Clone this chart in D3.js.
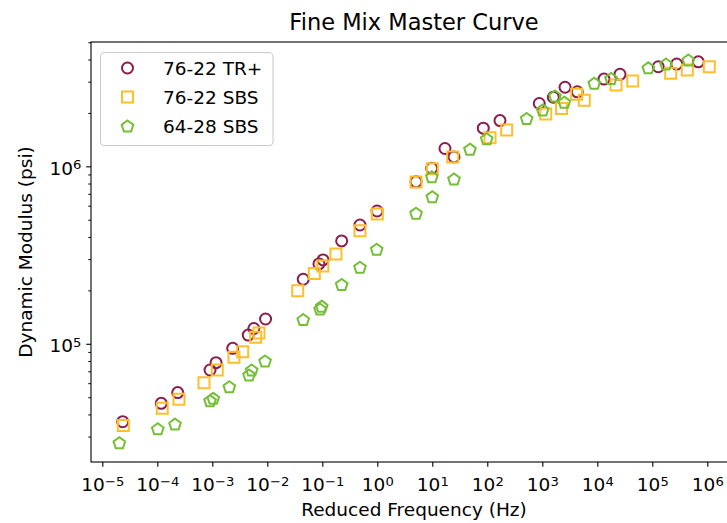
<!DOCTYPE html>
<html>
<head>
<meta charset="utf-8">
<script src="https://cdn.jsdelivr.net/npm/d3@7"></script>
<style>
  html, body { margin: 0; padding: 0; background: #fff; }
  svg { display: block; font-family: "DejaVu Sans", sans-serif; }
</style>
</head>
<body>
<svg id="chart" width="727" height="523"></svg>
<script>
// Reduced frequency (Hz) and dynamic modulus (psi) per mix
const freqTR   = [2.35e-5, 1.18e-4, 2.35e-4, 9.1e-4, 1.17e-3, 2.35e-3, 4.5e-3, 5.7e-3, 9.3e-3,
                  4.5e-2, 8.7e-2, 0.103, 0.225, 0.484, 0.99, 5.06, 9.75, 17.0, 24.8, 84.5, 170,
                  881, 1585, 2590, 4330, 13240, 25880, 1.285e5, 2.78e5, 6.86e5];
const modTR    = [3.64e4, 4.62e4, 5.31e4, 7.12e4, 7.83e4, 9.43e4, 1.12e5, 1.22e5, 1.38e5,
                  2.31e5, 2.82e5, 2.97e5, 3.80e5, 4.67e5, 5.60e5, 8.19e5, 9.75e5, 1.26e6, 1.13e6, 1.64e6, 1.81e6,
                  2.26e6, 2.45e6, 2.79e6, 2.63e6, 3.10e6, 3.30e6, 3.64e6, 3.77e6, 3.88e6];

const freqSBS  = [2.41e-5, 1.23e-4, 2.48e-4, 7.06e-4, 1.23e-3, 2.48e-3, 3.57e-3, 6.15e-3, 7.06e-3,
                  3.57e-2, 7.16e-2, 0.102, 0.177, 0.484, 1.0, 5.06, 10.0, 23.5, 112, 225,
                  1153, 2234, 4220, 5800, 21880, 44060, 2.16e5, 4.33e5, 1.087e6];
const modSBS   = [3.46e4, 4.33e4, 4.87e4, 6.04e4, 7.12e4, 8.39e4, 9.02e4, 1.09e5, 1.15e5,
                  1.99e5, 2.49e5, 2.74e5, 3.21e5, 4.34e5, 5.39e5, 8.16e5, 9.69e5, 1.13e6, 1.45e6, 1.60e6,
                  1.97e6, 2.12e6, 2.55e6, 2.36e6, 2.87e6, 3.03e6, 3.34e6, 3.49e6, 3.64e6];

const freq6428 = [2.04e-5, 1.02e-4, 2.10e-4, 9.1e-4, 1.04e-3, 2.04e-3, 4.65e-3, 5.2e-3, 9.1e-3,
                  4.5e-2, 9.1e-2, 9.75e-2, 0.225, 0.484, 0.975, 5.06, 10.0, 9.8, 24.8, 48.4, 97.5,
                  520, 1016, 1702, 2512, 8810, 17740, 84530, 1.77e5, 4.52e5];
const mod6428  = [2.77e4, 3.32e4, 3.53e4, 4.78e4, 4.93e4, 5.73e4, 6.67e4, 7.12e4, 8.00e4,
                  1.37e5, 1.57e5, 1.63e5, 2.16e5, 2.70e5, 3.41e5, 5.44e5, 6.74e5, 8.74e5, 8.48e5, 1.25e6, 1.43e6,
                  1.86e6, 2.08e6, 2.49e6, 2.30e6, 2.94e6, 3.13e6, 3.59e6, 3.77e6, 3.97e6];

const seriesNames  = ["76-22 TR+", "76-22 SBS", "64-28 SBS"];
const seriesColors = ["#8c1c4c", "#ffbf2b", "#74bf36"];
const seriesShapes = ["circle", "square", "pentagon"];

const xTickExps = [-5, -4, -3, -2, -1, 0, 1, 2, 3, 4, 5, 6];
const yTickExps = [5, 6];

const titleText = "Fine Mix Master Curve";
const xLabel = "Reduced Frequency (Hz)";
const yLabel = "Dynamic Modulus (psi)";

// ---- layout ----
const svg = d3.select("#chart");
const plot = { left: 91, right: 737, top: 42, bottom: 462 };

const x = d3.scaleLog().domain([Math.pow(10, -5.2055), Math.pow(10, 6.540)]).range([plot.left, plot.right]);
const y = d3.scaleLog().domain([Math.pow(10, 4.334), Math.pow(10, 6.7005)]).range([plot.bottom, plot.top]);

const majorLen = 4.8, minorLen = 2.7, tickW = 1.1;
const fontSize = 18.5;

svg.append("defs").append("clipPath").attr("id", "plotclip")
  .append("rect").attr("x", plot.left).attr("y", plot.top)
  .attr("width", plot.right - plot.left).attr("height", plot.bottom - plot.top);

// superscript tick label: 10^n
function powerLabel(sel, e) {
  sel.text(null);
  sel.append("tspan").text("10");
  sel.append("tspan").attr("dy", "-0.42em").attr("font-size", "0.71em")
     .text(e < 0 ? "\u2212" + Math.abs(e) : String(e));
}

// x axis
const xAxis = d3.axisBottom(x)
  .tickValues(xTickExps.map(e => Math.pow(10, e)))
  .tickSize(majorLen).tickPadding(4.8);
const gx = svg.append("g").attr("transform", `translate(0,${plot.bottom})`).call(xAxis);
gx.select(".domain").remove();
gx.selectAll(".tick line").attr("stroke", "#000").attr("stroke-width", tickW);
gx.selectAll(".tick text")
  .attr("font-size", fontSize).attr("font-family", "DejaVu Sans").attr("fill", "#000")
  .attr("dy", "1.05em")
  .each(function (d, i) { powerLabel(d3.select(this), xTickExps[i]); });

// y axis: major ticks
const yAxis = d3.axisLeft(y)
  .tickValues(yTickExps.map(e => Math.pow(10, e)))
  .tickSize(majorLen).tickPadding(4.8);
const gy = svg.append("g").attr("transform", `translate(${plot.left},0)`).call(yAxis);
gy.select(".domain").remove();
gy.selectAll(".tick line").attr("stroke", "#000").attr("stroke-width", tickW);
gy.selectAll(".tick text")
  .attr("font-size", fontSize).attr("font-family", "DejaVu Sans").attr("fill", "#000")
  .attr("dy", "0.42em")
  .each(function (d, i) { powerLabel(d3.select(this), yTickExps[i]); });

// y axis: minor ticks
const yMinor = [];
for (let e = 4; e <= 6; e++) for (let m = 2; m <= 9; m++) {
  const v = m * Math.pow(10, e);
  if (v >= y.domain()[0] && v <= y.domain()[1]) yMinor.push(v);
}
const gym = svg.append("g").attr("transform", `translate(${plot.left},0)`)
  .call(d3.axisLeft(y).tickValues(yMinor).tickSize(minorLen).tickFormat(""));
gym.select(".domain").remove();
gym.selectAll(".tick line").attr("stroke", "#000").attr("stroke-width", tickW * 0.9);

// markers
const markerSize = 11;
function pentagonPath(r) {
  const pts = d3.range(5).map(k => {
    const a = -Math.PI / 2 + k * 2 * Math.PI / 5;
    return [r * Math.cos(a), r * Math.sin(a) + r * 0.1];
  });
  return "M" + pts.map(p => p.join(",")).join("L") + "Z";
}
function shapePath(shape) {
  if (shape === "circle") return d3.symbol(d3.symbolCircle, Math.PI * Math.pow(markerSize / 2, 2))();
  if (shape === "square") return d3.symbol(d3.symbolSquare, markerSize * markerSize)();
  return pentagonPath(markerSize / 2 + 0.6);
}

const seriesData = [
  d3.zip(freqTR, modTR),
  d3.zip(freqSBS, modSBS),
  d3.zip(freq6428, mod6428)
];

const pts = svg.append("g").attr("clip-path", "url(#plotclip)");
seriesData.forEach((data, i) => {
  pts.append("g").selectAll("path").data(data).join("path")
    .attr("d", shapePath(seriesShapes[i]))
    .attr("transform", d => `translate(${x(d[0])},${y(d[1])})`)
    .attr("fill", "none")
    .attr("stroke", seriesColors[i])
    .attr("stroke-width", 2);
});

// frame
svg.append("rect")
  .attr("x", plot.left).attr("y", plot.top)
  .attr("width", plot.right - plot.left).attr("height", plot.bottom - plot.top)
  .attr("fill", "none").attr("stroke", "#000").attr("stroke-width", 1.1);

// legend
const lg = svg.append("g");
lg.append("rect")
  .attr("x", 100.5).attr("y", 52.5).attr("width", 172.5).attr("height", 93)
  .attr("rx", 4).attr("fill", "#fff").attr("fill-opacity", 0.8)
  .attr("stroke", "#cccccc").attr("stroke-width", 1.1);
const rowY = [68, 97, 126];
seriesNames.forEach((name, i) => {
  lg.append("path").attr("d", shapePath(seriesShapes[i]))
    .attr("transform", `translate(127.5,${rowY[i]})`)
    .attr("fill", "none").attr("stroke", seriesColors[i]).attr("stroke-width", 2);
  lg.append("text").attr("x", 163).attr("y", rowY[i]).attr("dy", "0.36em")
    .attr("font-size", fontSize).attr("fill", "#000").text(name);
});

// title and axis labels
const cx = (plot.left + plot.right) / 2;
svg.append("text").attr("x", cx).attr("y", 30).attr("text-anchor", "middle")
  .attr("font-size", 22.5).attr("fill", "#000").text(titleText);
svg.append("text").attr("x", cx).attr("y", 516).attr("text-anchor", "middle")
  .attr("font-size", fontSize).attr("fill", "#000").text(xLabel);
svg.append("text")
  .attr("transform", `translate(32,${(plot.top + plot.bottom) / 2}) rotate(-90)`)
  .attr("text-anchor", "middle")
  .attr("font-size", fontSize).attr("fill", "#000").text(yLabel);
</script>
</body>
</html>
